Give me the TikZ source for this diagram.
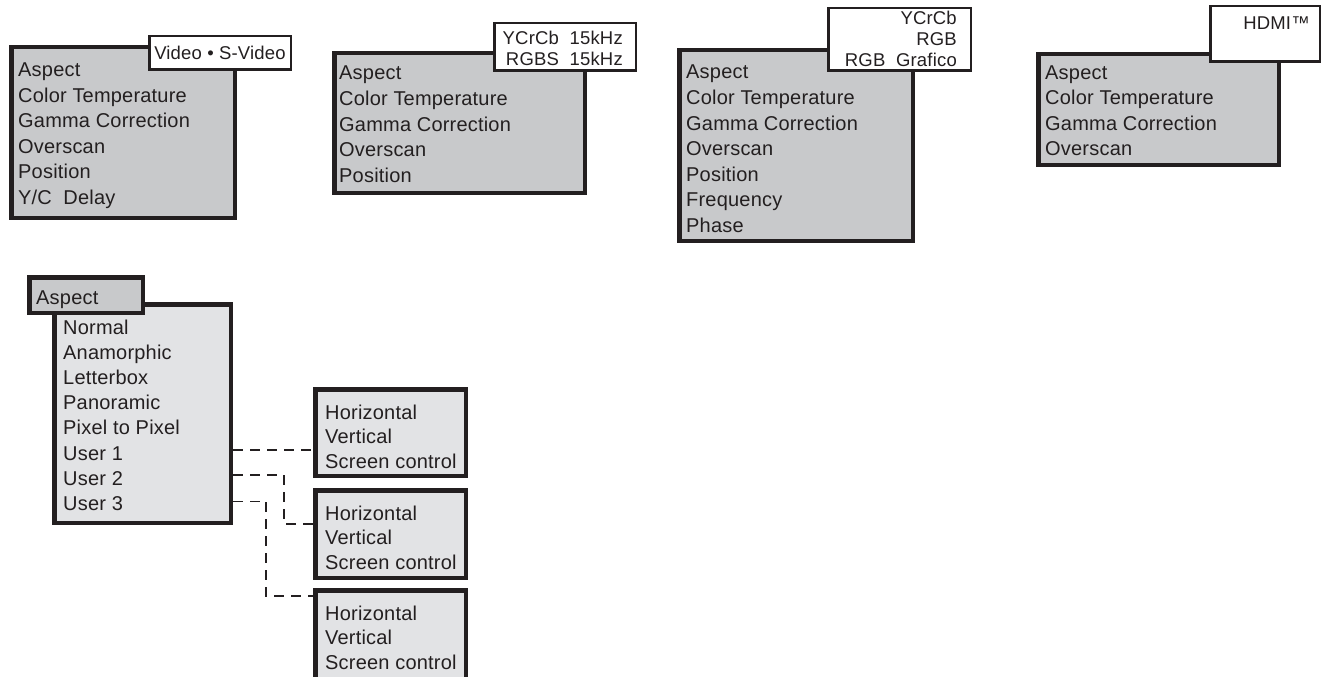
\documentclass[tikz,border=0pt]{standalone}
\usepackage{fontspec}
\setmainfont{Liberation Sans}[LetterSpace=1]
\usetikzlibrary{calc}
\definecolor{menu gray}{RGB}{200,201,203}
\definecolor{submenu gray}{RGB}{226,227,229}
\definecolor{ink}{RGB}{35,31,32}

\begin{document}
\begin{tikzpicture}[x=1pt, y=-1pt, font=\fontsize{20}{25}\selectfont, text=ink,
    menubox/.style={draw=ink, line width=4.5pt, fill=menu gray, anchor=north west, inner sep=0pt},
    subbox/.style={draw=ink, line width=4.5pt, fill=submenu gray, anchor=north west, inner sep=0pt},
    tagbox/.style={draw=ink, line width=2.5pt, fill=white, anchor=north west, inner sep=0pt},
    item/.style={anchor=west, inner sep=0pt, text height=14pt, text depth=0pt},
    tagtext/.style={font=\fontsize{18.5}{21}\selectfont, align=right, anchor=north east, inner sep=0pt},
    link/.style={draw=ink, line width=1.5pt, dash pattern=on 10pt off 7pt}]
        \clip (0,0) rectangle (1326,677);
        \node[menubox, minimum width=223.5pt, minimum height=170.5pt] (videomenu) at (9,45) {};
        \node[tagbox, minimum width=141.5pt, minimum height=33.5pt] (videotag) at (148,35) {};
        \node[tagtext, anchor=center] (videolabel) at (videotag.center) {Video • S-Video};
        \foreach \txt [count=\i] in {Aspect, Color Temperature, Gamma Correction, Overscan, Position, Y/C~~Delay}
            \node[item] (video-\i) at (18, 70+25.4*\i-25.4) {\txt};
        \node[menubox, minimum width=250.5pt, minimum height=139.5pt] (rgbsmenu) at (332,51) {};
        \node[tagbox, minimum width=141.5pt, minimum height=47.5pt] (rgbstag) at (493,22) {};
        \node[tagtext] (rgbslabel) at ($(rgbstag.north east)+(-14,8.5)$) {YCrCb~~15kHz\\RGBS~~15kHz};
        \foreach \txt [count=\i] in {Aspect, Color Temperature, Gamma Correction, Overscan, Position}
            \node[item] (rgbs-\i) at (339, 73+25.5*\i-25.5) {\txt};
        \node[menubox, minimum width=233.5pt, minimum height=190.5pt] (rgbmenu) at (677,48) {};
        \node[tagbox, minimum width=142.5pt, minimum height=62.5pt] (rgbtag) at (827,7) {};
        \node[tagtext] (rgblabel) at ($(rgbtag.north east)+(-15,4)$) {YCrCb\\RGB\\RGB~~Grafico};
        \foreach \txt [count=\i] in {Aspect, Color Temperature, Gamma Correction, Overscan, Position, Frequency, Phase}
            \node[item] (rgb-\i) at (686, 72+25.5*\i-25.5) {\txt};
        \node[menubox, minimum width=240.5pt, minimum height=110.5pt] (hdmimenu) at (1036,52) {};
        \node[tagbox, minimum width=109.5pt, minimum height=55.5pt] (hdmitag) at (1209,5) {};
        \node[tagtext] (hdmilabel) at ($(hdmitag.north east)+(-11,11.5)$) {HDMI™};
        \foreach \txt [count=\i] in {Aspect, Color Temperature, Gamma Correction, Overscan}
            \node[item] (hdmi-\i) at (1045, 73+25*\i-25) {\txt};
        \node[subbox, minimum width=176.5pt, minimum height=218.5pt] (aspectmenu) at (52,302) {};
        \node[menubox, minimum width=113.5pt, minimum height=35.5pt] (aspecttag) at (27,275) {};
        \node[item] (aspecthead) at (36,297) {Aspect};
        \foreach \txt [count=\i] in {Normal, Anamorphic, Letterbox, Panoramic, Pixel to Pixel, User 1, User 2, User 3}
            \node[item] (aspect-\i) at (63, 327+25.2*\i-25.2) {\txt};
        \foreach \name/\top/\h in {usera/387/86.5, userb/488/87.5, userc/588/120} {
            \node[subbox, minimum width=150.5pt, minimum height=\h pt] (\name) at (313,\top) {};
            \foreach \txt [count=\i] in {Horizontal, Vertical, Screen control}
                \node[item] (\name-\i) at (325, \top+25+24.5*\i-24.5) {\txt};
        }
        \draw[link] ($(aspect-6.west -| aspectmenu.east)+(0,-3)$) -- ($(aspect-6.west -| usera.west)+(0,-3)$);
        \draw[link] ($(aspect-7.west -| aspectmenu.east)+(0,-3)$) -| ($(userb.north west)+(-29,36)$) -- ($(userb.north west)+(0,36)$);
        \draw[link] ($(aspect-8.west -| aspectmenu.east)+(0,-2)$) -| ($(userc.north west)+(-47,8)$) -- ($(userc.north west)+(0,8)$);
      \end{tikzpicture}
\end{document}
